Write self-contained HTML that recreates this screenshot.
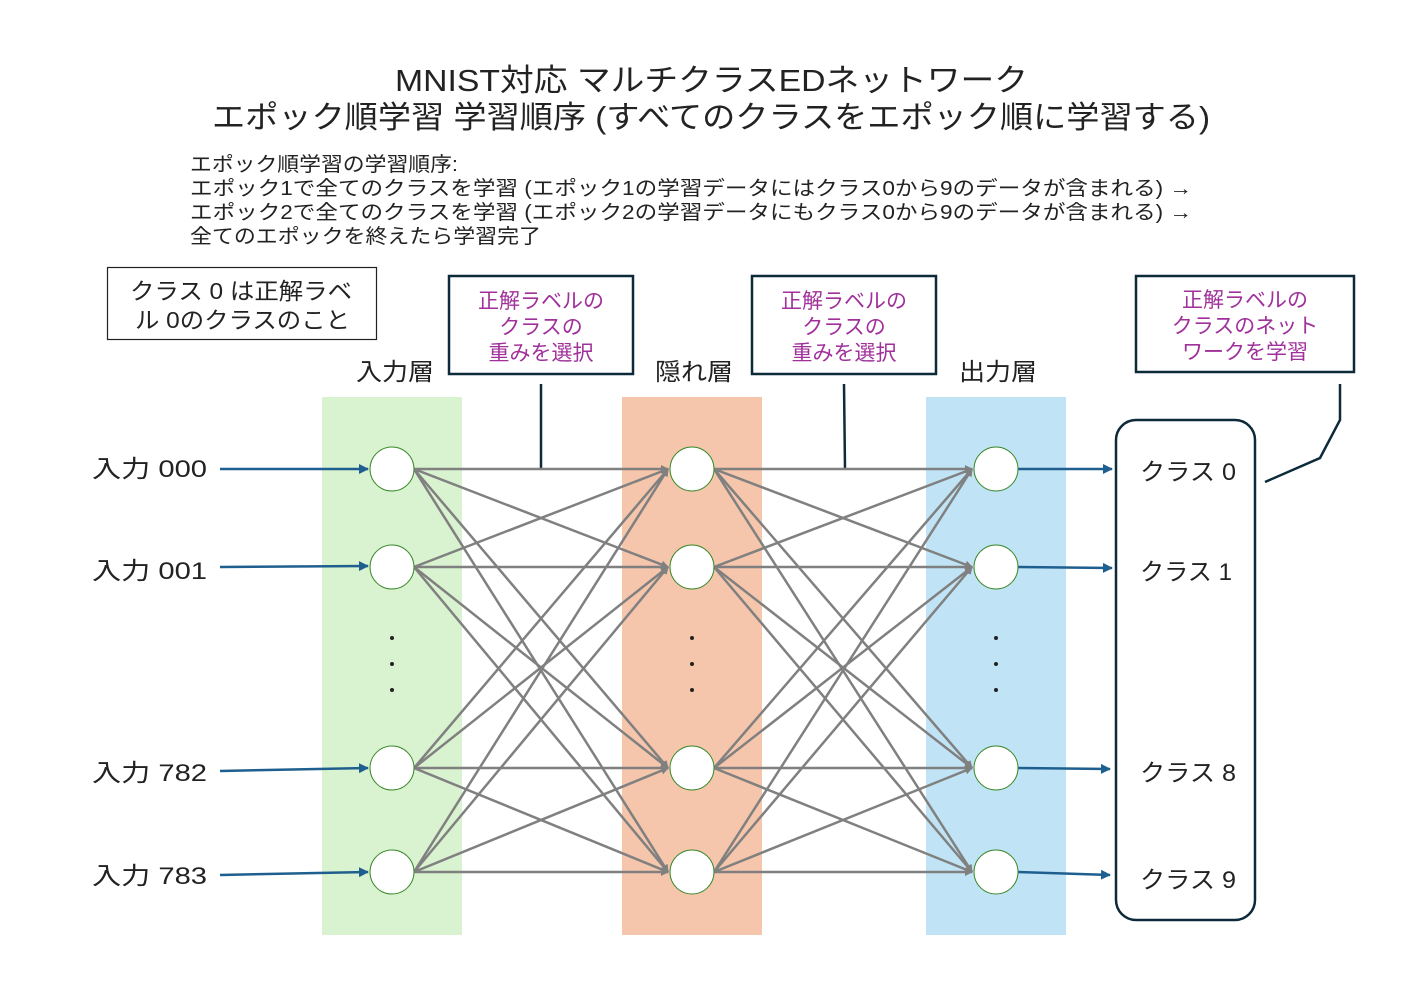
<!DOCTYPE html>
<html><head><meta charset="utf-8"><style>
body{margin:0;background:#fff}
svg text{font-family:"Liberation Sans","Noto Sans CJK JP",sans-serif}
</style></head><body>
<svg width="1423" height="985" xmlns="http://www.w3.org/2000/svg">
<defs>
<marker id="ag" markerWidth="8" markerHeight="8" refX="7" refY="4" orient="auto" markerUnits="userSpaceOnUse" viewBox="0 0 8 8"><path d="M0,0 L8,4 L0,8 z" fill="#808080"/></marker>
<marker id="ab" markerWidth="10" markerHeight="10" refX="9" refY="5" orient="auto" markerUnits="userSpaceOnUse" viewBox="0 0 10 10"><path d="M0,0 L10,5 L0,10 z" fill="#1f5f8f"/></marker>
</defs>
<text x="395" y="91" font-size="31" textLength="633" lengthAdjust="spacingAndGlyphs" fill="#222">MNIST対応 マルチクラスEDネットワーク</text>
<text x="212" y="128" font-size="31" textLength="998" lengthAdjust="spacingAndGlyphs" fill="#222">エポック順学習 学習順序 (すべてのクラスをエポック順に学習する)</text>
<g font-size="20" fill="#222">
<text x="190" y="171" textLength="268" lengthAdjust="spacingAndGlyphs">エポック順学習の学習順序:</text>
<text x="190" y="195" textLength="1002" lengthAdjust="spacingAndGlyphs">エポック1で全てのクラスを学習 (エポック1の学習データにはクラス0から9のデータが含まれる) →</text>
<text x="190" y="219" textLength="1002" lengthAdjust="spacingAndGlyphs">エポック2で全てのクラスを学習 (エポック2の学習データにもクラス0から9のデータが含まれる) →</text>
<text x="190" y="243" textLength="351" lengthAdjust="spacingAndGlyphs">全てのエポックを終えたら学習完了</text>
</g>
<rect x="107.5" y="267.5" width="269" height="72" fill="#fff" stroke="#222" stroke-width="1.2"/>
<text x="130" y="299" font-size="23" textLength="222" lengthAdjust="spacingAndGlyphs" fill="#222">クラス 0 は正解ラベ</text>
<text x="135" y="328" font-size="23" textLength="215" lengthAdjust="spacingAndGlyphs" fill="#222">ル 0のクラスのこと</text>
<g fill="#fff" stroke="#0d2a3a" stroke-width="2.5">
<rect x="449" y="276" width="184" height="98"/>
<rect x="752" y="276" width="184" height="98"/>
<rect x="1136" y="276" width="218" height="96"/>
</g>
<g font-size="21" fill="#a0309a" text-anchor="middle">
<text x="541" y="308">正解ラベルの</text><text x="541" y="334">クラスの</text><text x="541" y="360">重みを選択</text>
<text x="844" y="308">正解ラベルの</text><text x="844" y="334">クラスの</text><text x="844" y="360">重みを選択</text>
<text x="1245" y="307">正解ラベルの</text><text x="1245" y="333">クラスのネット</text><text x="1245" y="359">ワークを学習</text>
</g>
<g font-size="24" fill="#222">
<text x="356" y="380" textLength="78" lengthAdjust="spacingAndGlyphs">入力層</text><text x="655" y="380" textLength="78" lengthAdjust="spacingAndGlyphs">隠れ層</text><text x="959" y="380" textLength="78" lengthAdjust="spacingAndGlyphs">出力層</text>
</g>
<rect x="322" y="397" width="140" height="538" fill="#d9f2d0"/>
<rect x="622" y="397" width="140" height="538" fill="#f5c6ab"/>
<rect x="926" y="397" width="140" height="538" fill="#c0e4f5"/>
<g stroke="#0d2a3a" stroke-width="2.5" fill="none">
<line x1="541" y1="384" x2="541" y2="469"/>
<line x1="844" y1="384" x2="845" y2="469"/>
<polyline points="1340,384 1340,420 1320,458 1265,482"/>
<rect x="1116" y="420" width="139" height="500" rx="20" fill="#fff"/>
</g>
<g stroke="#808080" stroke-width="2.5" marker-end="url(#ag)">
<line x1="414" y1="469" x2="668" y2="469"/><line x1="414" y1="469" x2="668" y2="567"/><line x1="414" y1="469" x2="668" y2="768"/><line x1="414" y1="469" x2="668" y2="872"/>
<line x1="414" y1="567" x2="668" y2="469"/><line x1="414" y1="567" x2="668" y2="567"/><line x1="414" y1="567" x2="668" y2="768"/><line x1="414" y1="567" x2="668" y2="872"/>
<line x1="414" y1="768" x2="668" y2="469"/><line x1="414" y1="768" x2="668" y2="567"/><line x1="414" y1="768" x2="668" y2="768"/><line x1="414" y1="768" x2="668" y2="872"/>
<line x1="414" y1="872" x2="668" y2="469"/><line x1="414" y1="872" x2="668" y2="567"/><line x1="414" y1="872" x2="668" y2="768"/><line x1="414" y1="872" x2="668" y2="872"/>
</g>
<g transform="translate(304,0)" stroke="#808080" stroke-width="2.5" marker-end="url(#ag)">
<line x1="410" y1="469" x2="668" y2="469"/><line x1="410" y1="469" x2="668" y2="567"/><line x1="410" y1="469" x2="668" y2="768"/><line x1="410" y1="469" x2="668" y2="872"/>
<line x1="410" y1="567" x2="668" y2="469"/><line x1="410" y1="567" x2="668" y2="567"/><line x1="410" y1="567" x2="668" y2="768"/><line x1="410" y1="567" x2="668" y2="872"/>
<line x1="410" y1="768" x2="668" y2="469"/><line x1="410" y1="768" x2="668" y2="567"/><line x1="410" y1="768" x2="668" y2="768"/><line x1="410" y1="768" x2="668" y2="872"/>
<line x1="410" y1="872" x2="668" y2="469"/><line x1="410" y1="872" x2="668" y2="567"/><line x1="410" y1="872" x2="668" y2="768"/><line x1="410" y1="872" x2="668" y2="872"/>
</g>
<g stroke="#1f5f8f" stroke-width="2.5" marker-end="url(#ab)">
<line x1="220" y1="469" x2="368" y2="469"/><line x1="220" y1="567" x2="368" y2="566"/><line x1="220" y1="771" x2="368" y2="768"/><line x1="220" y1="875" x2="368" y2="872"/>
<line x1="1018" y1="469" x2="1112" y2="469"/><line x1="1018" y1="567" x2="1112" y2="568"/><line x1="1018" y1="768" x2="1110" y2="769"/><line x1="1018" y1="872" x2="1110" y2="875"/>
</g>
<g fill="#fff" stroke="#3a8a2a" stroke-width="1">
<circle cx="392" cy="469" r="22"/><circle cx="392" cy="567" r="22"/><circle cx="392" cy="768" r="22"/><circle cx="392" cy="872" r="22"/>
<circle cx="692" cy="469" r="22"/><circle cx="692" cy="567" r="22"/><circle cx="692" cy="768" r="22"/><circle cx="692" cy="872" r="22"/>
<circle cx="996" cy="469" r="22"/><circle cx="996" cy="567" r="22"/><circle cx="996" cy="768" r="22"/><circle cx="996" cy="872" r="22"/>
</g>
<g fill="#222">
<circle cx="392" cy="638" r="2"/><circle cx="392" cy="664" r="2"/><circle cx="392" cy="690" r="2"/>
<circle cx="692" cy="638" r="2"/><circle cx="692" cy="664" r="2"/><circle cx="692" cy="690" r="2"/>
<circle cx="996" cy="638" r="2"/><circle cx="996" cy="664" r="2"/><circle cx="996" cy="690" r="2"/>
</g>
<g font-size="24" fill="#222">
<text x="92" y="477" textLength="115" lengthAdjust="spacingAndGlyphs">入力  000</text><text x="92" y="579" textLength="115" lengthAdjust="spacingAndGlyphs">入力  001</text><text x="92" y="781" textLength="115" lengthAdjust="spacingAndGlyphs">入力  782</text><text x="92" y="884" textLength="115" lengthAdjust="spacingAndGlyphs">入力  783</text>
<text x="1140" y="480" textLength="96" lengthAdjust="spacingAndGlyphs">クラス 0</text><text x="1140" y="580" textLength="92" lengthAdjust="spacingAndGlyphs">クラス 1</text><text x="1140" y="781" textLength="96" lengthAdjust="spacingAndGlyphs">クラス 8</text><text x="1140" y="888" textLength="96" lengthAdjust="spacingAndGlyphs">クラス 9</text>
</g>
</svg>
</body></html>
